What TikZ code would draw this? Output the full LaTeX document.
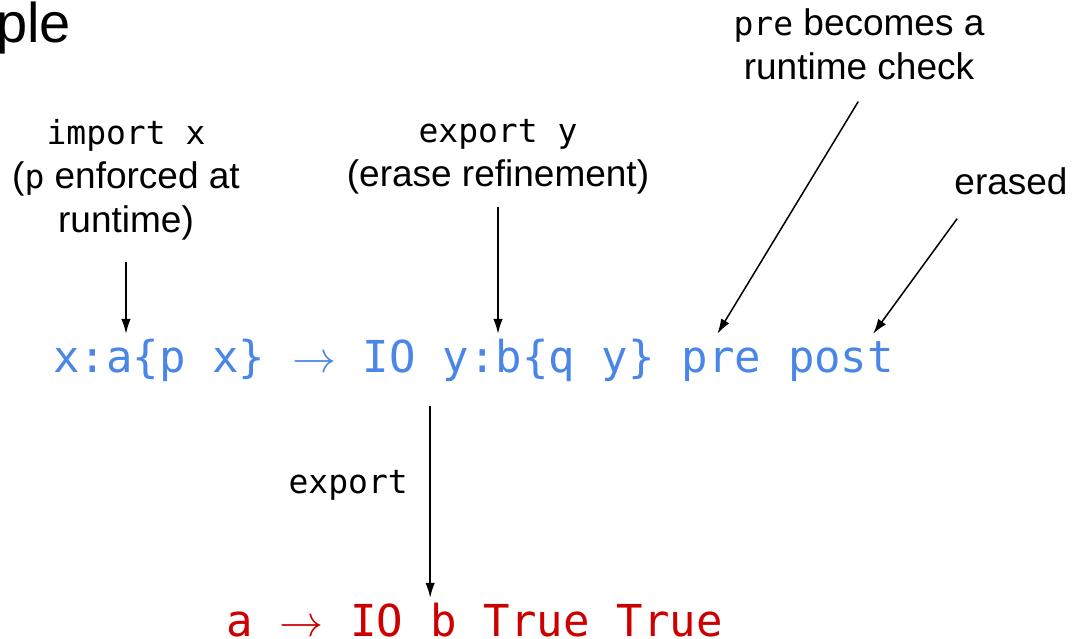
\RequirePackage{fix-cm}
\documentclass[tikz,border=0pt]{standalone}
\usepackage{fontspec}
\setmainfont{Liberation Sans}
\setmonofont{DejaVu Sans Mono}
\usetikzlibrary{arrows.meta, positioning, calc}

\definecolor{codeblue}{HTML}{4A86E8}
\definecolor{codered}{HTML}{CC0000}

\newcommand{\codefont}{\ttfamily\fontsize{44}{53}\selectfont}
\newcommand{\notefont}{\fontsize{37}{44}\selectfont}
\newcommand{\notemono}{\ttfamily\fontsize{33}{44}\selectfont}

\begin{document}
\begin{tikzpicture}[x=1pt, y=-1pt,
    code/.style={font=\codefont, inner sep=0pt, text height=38pt, text depth=12pt},
    note/.style={font=\notefont, align=center, inner sep=0pt},
    pointer/.style={-{Latex[length=15pt, width=9.5pt]}, line width=1.5pt}]
  \useasboundingbox (0,0) rectangle (1073,639);

  % slide title, cut off at the left edge
  \node[font=\fontsize{56}{60}\selectfont, inner sep=0pt, anchor=base west] (title) at (-4,43) {ple};

  % refined type (blue)
  \node[code, codeblue, anchor=base west] (bx) at (53,372) {x:a\{p x\}};
  \node[code, codeblue, base right=26.5pt of bx] (barr) {$\rightarrow$};
  \node[code, codeblue, base right=26.5pt of barr] (bio) {IO};
  \node[code, codeblue, base right=26.5pt of bio] (by) {y:b\{q y\}};
  \node[code, codeblue, base right=26.5pt of by] (bpre) {pre};
  \node[code, codeblue, base right=26.5pt of bpre] (bpost) {post};

  % exported type (red)
  \node[code, codered, anchor=base west] (ra) at (226,636) {a};
  \node[code, codered, base right=26.5pt of ra] (rarr) {$\rightarrow$};
  \node[code, codered, base right=26.5pt of rarr] (rio) {IO};
  \node[code, codered, base right=26.5pt of rio] (rb) {b};
  \node[code, codered, base right=26.5pt of rb] (rt1) {True};
  \node[code, codered, base right=26.5pt of rt1] (rt2) {True};

  % notes (base = last line)
  \node[note, anchor=base] (limp) at (126,233) {{\notemono import x}\\({\notemono p} enforced at\\runtime)};
  \node[note, anchor=base] (lexy) at (498,187) {{\notemono export y}\\(erase refinement)};
  \node[note, anchor=base] (lpre) at (859,80) {{\notemono pre} becomes a\\runtime check};
  \node[note, anchor=base] (lera) at (1011,195) {erased};
  \node[font=\notemono, inner sep=0pt, anchor=base east] (lexp) at (408,493) {export};

  % pointers
  \draw[pointer, shorten <=21pt] (limp.south) -- (limp.south |- bx.north);
  \draw[pointer, shorten <=12pt] (lexy.south) -- (lexy.south |- by.north);
  \draw[pointer, shorten <=24.6pt] ([xshift=12pt]lpre.south) -- ([xshift=-4pt]bpre.north);
  \draw[pointer, shorten <=28.6pt] ([xshift=-37pt]lera.south) -- ([xshift=-21pt]bpost.north east);
  \draw[pointer, shorten <=22pt] (rb.north west |- bio.south) -- (rb.north west);
\end{tikzpicture}
\end{document}
